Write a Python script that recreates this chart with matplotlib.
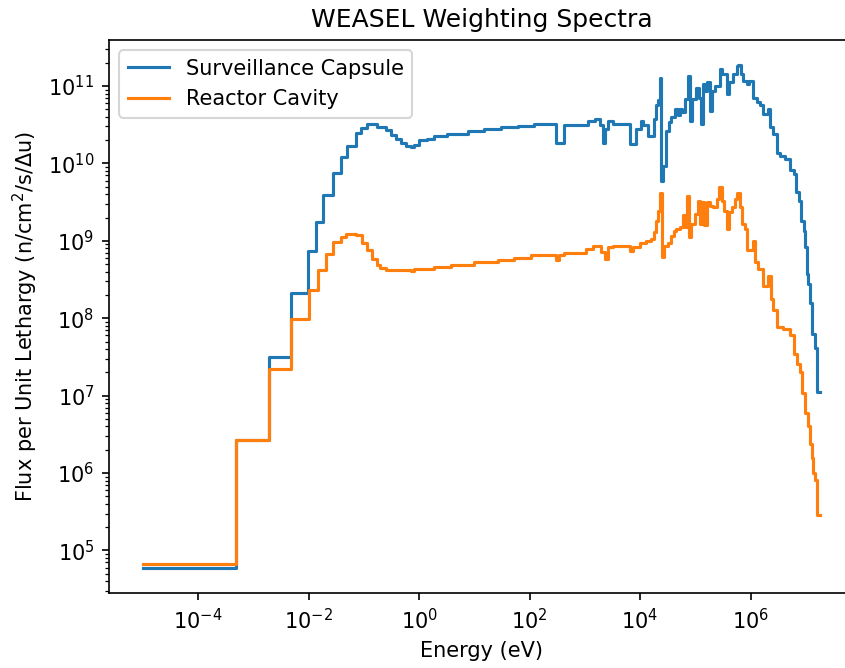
import numpy as np
import matplotlib
matplotlib.use('Agg')
import matplotlib.pyplot as plt
from matplotlib.ticker import NullLocator

# group energies (eV, lower edges) and flux per unit lethargy
capsule_energy = [1e-5, 4.85e-4, 1.95e-3, 4.9e-3, 9.8e-3, 1.39e-2, 1.84e-2, 2.75e-2, 3.9e-2, 4.9e-2,
                  7.1e-2, 9.0e-2, 0.115, 0.176, 0.249, 0.306, 0.378, 0.466, 0.574, 0.706,
                  0.80, 0.99, 1.42, 1.85, 3.27, 7.55, 14.9, 30.4, 61.0, 120.0,
                  302.0, 427.0, 1140.0, 1500.0, 1850.0, 2130.0, 2280.0, 2630.0, 3240.0, 6500.0,
                  8560.0, 1.02e4, 1.13e4, 1.4e4, 1.8e4, 1.98e4, 2.12e4, 2.31e4, 2.44e4, 2.61e4,
                  3.0e4, 3.3e4, 3.59e4, 4.25e4, 4.9e4, 5.2e4, 5.8e4, 6.45e4, 7.4e4, 7.9e4,
                  8.8e4, 1.05e5, 1.16e5, 1.26e5, 1.39e5, 1.49e5, 1.66e5, 1.83e5, 2.03e5, 2.26e5,
                  2.79e5, 3.08e5, 3.68e5, 4.06e5, 4.88e5, 5.6e5, 6.0e5, 6.7e5, 7.4e5, 8.5e5,
                  9.3e5, 1.12e6, 1.29e6, 1.48e6, 1.7e6, 2.1e6, 2.24e6, 2.58e6, 2.96e6, 3.4e6,
                  4.2e6, 5.2e6, 6.0e6, 6.6e6, 7.4e6, 8.2e6, 9.1e6, 9.8e6, 1.05e7, 1.12e7,
                  1.2e7, 1.32e7, 1.44e7, 1.58e7, 1.82e7]
capsule_flux = [5.96e4, 2.65e6, 3.15e7, 2.1e8, 7.3e8, 1.74e9, 3.9e9, 7.5e9, 1.22e10, 1.7e10,
                2.45e10, 2.87e10, 3.24e10, 2.99e10, 2.69e10, 2.34e10, 2.04e10, 1.82e10, 1.7e10, 1.62e10,
                1.74e10, 2.0e10, 2.09e10, 2.24e10, 2.4e10, 2.63e10, 2.82e10, 2.92e10, 3.05e10, 3.24e10,
                1.86e10, 3.09e10, 3.55e10, 3.72e10, 3.09e10, 1.86e10, 2.79e10, 3.55e10, 3.24e10, 1.78e10,
                2.79e10, 3.55e10, 3.09e10, 2.29e10, 3.72e10, 5.6e10, 6.5e10, 1.26e11, 6.0e9, 9.3e9,
                2.63e10, 3.39e10, 3.94e10, 5.0e10, 4.17e10, 5.0e10, 4.57e10, 6.76e10, 1.35e11, 3.55e10,
                6.76e10, 9.5e10, 7.1e10, 3.24e10, 1.07e11, 8.7e10, 1.12e11, 4.8e10, 8.7e10, 1.0e11,
                1.66e11, 1.41e11, 7.9e10, 1.12e11, 1.41e11, 1.82e11, 1.86e11, 1.41e11, 1.17e11, 1.07e11,
                1.17e11, 7.1e10, 6.2e10, 5.6e10, 4.37e10, 5.0e10, 2.95e10, 2.4e10, 1.38e10, 1.26e10,
                1.15e10, 8.1e9, 7.3e9, 4.27e9, 3.3e9, 1.82e9, 1.35e9, 8.3e8, 3.7e8, 2.8e8,
                1.55e8, 6.3e7, 4.1e7, 1.13e7, 1.13e7]

cavity_energy = [1e-5, 4.85e-4, 1.95e-3, 4.9e-3, 1.0e-2, 1.47e-2, 2.09e-2, 2.75e-2, 3.8e-2, 4.7e-2,
                 7.1e-2, 9.4e-2, 0.115, 0.143, 0.171, 0.20, 0.249, 0.706, 0.80, 1.85,
                 3.76, 9.8, 26.5, 53.0, 106.0, 302.0, 347.0, 427.0, 1060.0, 1400.0,
                 1990.0, 2280.0, 2630.0, 3240.0, 6500.0, 7460.0, 9840.0, 1.3e4, 1.6e4, 1.8e4,
                 1.98e4, 2.12e4, 2.27e4, 2.5e4, 2.72e4, 3.22e4, 3.7e4, 4.14e4, 4.56e4, 5.2e4,
                 6.0e4, 6.6e4, 7.1e4, 7.6e4, 8.5e4, 9.8e4, 1.13e5, 1.2e5, 1.3e5, 1.45e5,
                 1.6e5, 1.83e5, 2.11e5, 2.43e5, 2.67e5, 3.0e5, 3.35e5, 3.68e5, 4.06e5, 4.54e5,
                 5.2e5, 5.76e5, 6.4e5, 6.9e5, 7.9e5, 8.5e5, 1.12e6, 1.2e6, 1.38e6, 1.7e6,
                 2.1e6, 2.33e6, 2.58e6, 2.96e6, 3.94e6, 5.2e6, 6.0e6, 6.9e6, 7.9e6, 8.7e6,
                 9.8e6, 1.09e7, 1.2e7, 1.29e7, 1.38e7, 1.48e7, 1.58e7, 1.82e7]
cavity_flux = [6.6e4, 2.65e6, 2.2e7, 9.7e7, 2.35e8, 4.2e8, 6.7e8, 9.7e8, 1.11e9, 1.23e9,
               1.2e9, 9.5e8, 7.5e8, 5.9e8, 4.9e8, 4.47e8, 4.2e8, 4.07e8, 4.37e8, 4.57e8,
               4.8e8, 5.25e8, 5.7e8, 6.0e8, 6.5e8, 5.6e8, 6.5e8, 6.9e8, 7.9e8, 8.5e8,
               7.1e8, 5.9e8, 8.3e8, 8.7e8, 7.3e8, 8.3e8, 9.5e8, 1.0e9, 1.06e9, 1.29e9,
               1.82e9, 2.45e9, 4.1e9, 6.2e8, 8.7e8, 9.5e8, 1.17e9, 1.35e9, 1.43e9, 1.51e9,
               2.14e9, 1.51e9, 3.85e9, 1.12e9, 1.66e9, 2.24e9, 3.3e9, 1.66e9, 3.16e9, 1.58e9,
               3.16e9, 2.85e9, 2.7e9, 3.47e9, 4.9e9, 3.3e9, 2.45e9, 1.43e9, 2.34e9, 2.7e9,
               3.47e9, 4.1e9, 2.7e9, 1.66e9, 1.43e9, 7.5e8, 1.0e9, 5.25e8, 4.37e8, 2.63e8,
               3.55e8, 1.78e8, 1.26e8, 7.8e7, 7.2e7, 6.0e7, 3.47e7, 2.57e7, 2.0e7, 1.07e7,
               5.9e6, 4.0e6, 2.4e6, 1.55e6, 1.0e6, 8.1e5, 2.85e5, 2.85e5]

fig = plt.figure(figsize=(845 / 150, 668 / 150), dpi=150)
ax = fig.add_axes([109 / 845, 75 / 668, 745 / 845, 553 / 668])

ax.step(capsule_energy, capsule_flux, where='post', label='Surveillance Capsule')
ax.step(cavity_energy, cavity_flux, where='post', label='Reactor Cavity')
ax.set_xscale('log')
ax.set_yscale('log')
ax.xaxis.set_minor_locator(NullLocator())

ax.set_title('WEASEL Weighting Spectra')
ax.set_xlabel('Energy (eV)')
ax.set_ylabel('Flux per Unit Lethargy (n/cm$^2$/s/$\\Delta$u)')
ax.legend(loc='upper left')

fig.savefig('out.png', dpi=150)
